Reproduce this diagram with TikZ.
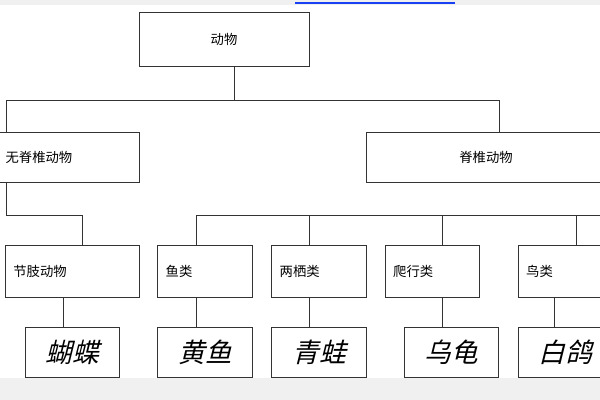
\documentclass[tikz,border=0pt]{standalone}
\usepackage{fontspec}
\usetikzlibrary{positioning}
\newfontfamily\cjk{Noto Sans CJK SC}
\newfontfamily\cjkslant[FakeSlant=0.25]{Noto Sans CJK SC}
\definecolor{band}{rgb}{0.94,0.94,0.94}
\definecolor{linkblue}{rgb}{0.1,0.25,0.95}
\tikzset{box/.style={draw=black!80,semithick,rectangle,inner sep=0pt,font=\cjk\fontsize{10}{10}\selectfont},
  kind/.style={box,minimum width=71pt,minimum height=39pt,align=left,text width=59pt},
  pic/.style={box,minimum width=71pt,minimum height=38pt,font=\cjkslant\fontsize{20}{20}\selectfont}}
\begin{document}
\begin{tikzpicture}[x=0.75pt,y=-0.75pt]
\useasboundingbox (0,0) rectangle (600,400);
\clip (0,0) rectangle (600,400);
\fill[band] (0,0) rectangle (600,5);
\draw[linkblue,thick] (295,3) -- (455,3);
\fill[band] (0,378) rectangle (600,400);
% levels one and two
\node[box,minimum width=127.5pt,minimum height=41pt] (animal) at (224,39.5) {动物};
\node[box,minimum width=150pt,minimum height=37pt] (invert) at (39,157.5) {无脊椎动物};
\node[box,minimum width=180pt,minimum height=37pt] (vert) at (486,157.5) {脊椎动物};
\draw[black!80,semithick] (animal.south) ++(10,0) -- (234,100) (6,100) -- (499,100);
\draw[black!80,semithick] (6,100) -- (6,133) (499,100) -- (499,133);
% level three
\node[kind,minimum width=100.5pt,text width=88pt] (arthro) at (72,271) {节肢动物};
\node[kind] (fish) at (205,271) {鱼类};
\node[kind] (amphi) at (319,271) {两栖类};
\node[kind] (reptile) at (432.5,271) {爬行类};
\node[kind] (bird) at (565.5,271) {鸟类};
\draw[black!80,semithick] (6,182) -- (6,215) -- (82,215) -- (82,245);
\draw[black!80,semithick] (196,215) -- (600,215);
\foreach \x in {196,309,442,576} \draw[black!80,semithick] (\x,215) -- (\x,245);
% level four
\node[pic] (butterfly) at (72.5,352.5) {蝴蝶};
\node[pic] (yellowfish) at (205,352.5) {黄鱼};
\node[pic] (frog) at (319,352.5) {青蛙};
\node[pic] (turtle) at (451.5,352.5) {乌龟};
\node[pic] (dove) at (565.5,352.5) {白鸽};
\foreach \x in {63,196,309,442,554} \draw[black!80,semithick] (\x,297) -- (\x,327);
\end{tikzpicture}
\end{document}
